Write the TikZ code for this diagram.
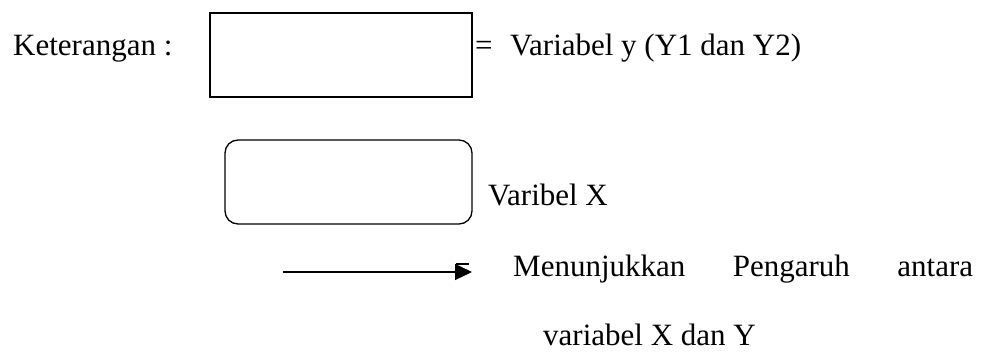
\documentclass[tikz,border=0pt]{standalone}
\usepackage{fontspec}
\setmainfont{Liberation Serif}
\usetikzlibrary{arrows.meta}
\begin{document}
\begin{tikzpicture}[x=1pt,y=-1pt,
  lbl/.style={anchor=base west,inner sep=0pt,font=\fontsize{31}{37}\selectfont},
  boxline/.style={draw,line width=1.3pt}]
\useasboundingbox (0,0) rectangle (986,351);
\node[lbl] (ket) at (13,55) {Keterangan :};
\draw[boxline] (210,13) rectangle (472,97);
\coordinate (b1) at (210,13);
\node[lbl] (eq) at (475,55) {=};
\node[lbl] (vy) at (510,55) {Variabel y (Y1 dan Y2)};
\draw[boxline,rounded corners=13pt] (225,140) rectangle (472,224);
\node[lbl] (vx) at (488,205) {Varibel X};
\coordinate (as) at (283,272);
\coordinate (ae) at (472,272);
\draw[line width=1.3pt,-{Triangle[length=17pt,width=16pt]}] (as) -- (ae);
\coordinate (ds) at (456,264);
\coordinate (de) at (469,264);
\draw[line width=1.1pt] (ds) -- (de);
\node[lbl] (mp) at (513,276) {\makebox[460pt][s]{Menunjukkan Pengaruh antara}};
\node[lbl] (vxy) at (543,345) {variabel X dan Y};
\end{tikzpicture}
\end{document}
